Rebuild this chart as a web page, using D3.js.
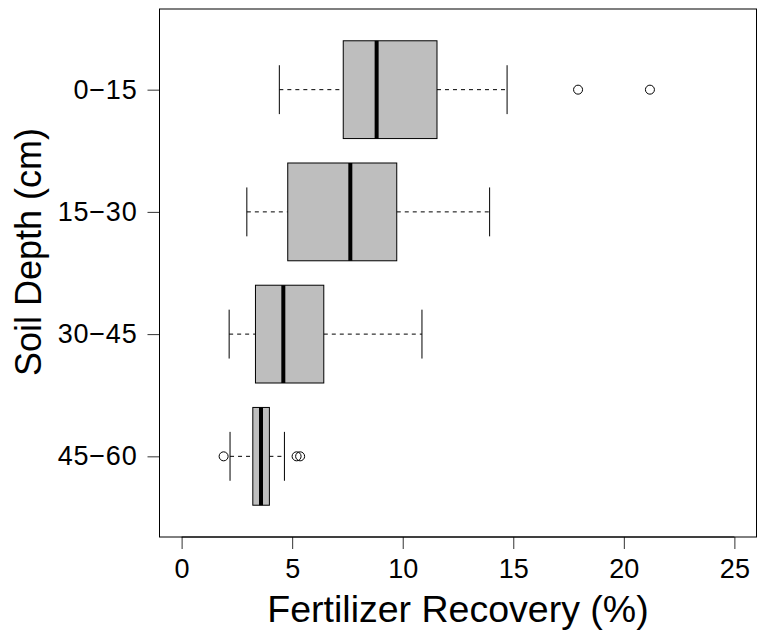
<!DOCTYPE html>
<html>
<head>
<meta charset="utf-8">
<script src="https://cdn.jsdelivr.net/npm/d3@7"></script>
<style>
  body { margin: 0; background: #fff; }
  svg text { font-family: "Liberation Sans", Arial, Helvetica, sans-serif; fill: #000; }
</style>
</head>
<body>
<div id="chart"></div>
<script>
// Chart values (top row first)
var depths = ["0\u221215", "15\u221230", "30\u221245", "45\u221260"];
var lowerWhisker = [4.42, 2.95, 2.15, 2.19];
var q1 = [7.31, 4.80, 3.34, 3.22];
var medians = [8.82, 7.63, 4.60, 3.59];
var q3 = [11.55, 9.73, 6.43, 3.97];
var upperWhisker = [14.72, 13.93, 10.87, 4.65];
var outliers = [[17.93, 21.18], [], [], [1.90, 5.20, 5.36]];
var xTicks = [0, 5, 10, 15, 20, 25];

var svgWidth = 757;
var svgHeight = 635;

// plot region (R style: box around the panel)
var plot = { left: 159.5, right: 756.5, top: 9, bottom: 537 };

var svg = d3.select("#chart")
            .append("svg")
            .attr("width", svgWidth)
            .attr("height", svgHeight);

// x: 0..25 padded by 4% like R does
var xScale = d3.scaleLinear()
    .domain([-1, 26])
    .range([plot.left, plot.right]);

// y: group positions 1..4 (bottom to top), padded like R
var yScale = d3.scaleLinear()
    .domain([0.34, 4.66])
    .range([plot.bottom, plot.top]);

var rows = depths.map(function(d, i) {
    return {
        label: d,
        pos: depths.length - i,
        lo: lowerWhisker[i],
        q1: q1[i],
        med: medians[i],
        q3: q3[i],
        hi: upperWhisker[i],
        out: outliers[i]
    };
});

var boxHalf = (yScale(0) - yScale(0.8)) / 2;
var capHalf = boxHalf / 2;

// Axes
var bottomAxis = d3.axisBottom(xScale)
    .tickValues(xTicks)
    .tickSize(12)
    .tickPadding(10);

var leftAxis = d3.axisLeft(yScale)
    .tickValues(rows.map(function(r) { return r.pos; }))
    .tickFormat(function(p) { return depths[depths.length - p]; })
    .tickSize(12)
    .tickPadding(10);

var xAxisG = svg.append("g")
    .attr("transform", "translate(0," + plot.bottom + ")")
    .call(bottomAxis);
xAxisG.select(".domain").remove();
xAxisG.selectAll("line").attr("stroke", "#333");
xAxisG.selectAll("text")
    .attr("font-size", 27)
    .attr("dy", "0.71em");

// axis line from first to last tick, like R
svg.append("line")
    .attr("x1", xScale(0)).attr("x2", xScale(25))
    .attr("y1", plot.bottom).attr("y2", plot.bottom)
    .attr("stroke", "#000");

var yAxisG = svg.append("g")
    .attr("transform", "translate(" + plot.left + ",0)")
    .call(leftAxis);
yAxisG.select(".domain").remove();
yAxisG.selectAll("line").attr("stroke", "#333");
yAxisG.selectAll("text")
    .attr("font-size", 27)
    .attr("letter-spacing", 0.8);

// Boxplots
var groups = svg.selectAll(".box")
    .data(rows)
    .enter()
    .append("g")
    .attr("class", "box");

// dashed whiskers
groups.append("line")
    .attr("x1", d => xScale(d.lo))
    .attr("x2", d => xScale(d.q1))
    .attr("y1", d => yScale(d.pos))
    .attr("y2", d => yScale(d.pos))
    .attr("stroke", "#000")
    .attr("stroke-dasharray", "4,4");

groups.append("line")
    .attr("x1", d => xScale(d.q3))
    .attr("x2", d => xScale(d.hi))
    .attr("y1", d => yScale(d.pos))
    .attr("y2", d => yScale(d.pos))
    .attr("stroke", "#000")
    .attr("stroke-dasharray", "4,4");

// staples
groups.append("line")
    .attr("x1", d => xScale(d.lo))
    .attr("x2", d => xScale(d.lo))
    .attr("y1", d => yScale(d.pos) - capHalf)
    .attr("y2", d => yScale(d.pos) + capHalf)
    .attr("stroke", "#000");

groups.append("line")
    .attr("x1", d => xScale(d.hi))
    .attr("x2", d => xScale(d.hi))
    .attr("y1", d => yScale(d.pos) - capHalf)
    .attr("y2", d => yScale(d.pos) + capHalf)
    .attr("stroke", "#000");

// box
groups.append("rect")
    .attr("x", d => xScale(d.q1))
    .attr("width", d => xScale(d.q3) - xScale(d.q1))
    .attr("y", d => yScale(d.pos) - boxHalf)
    .attr("height", boxHalf * 2)
    .attr("fill", "#bebebe")
    .attr("stroke", "#000")
    .attr("stroke-width", 1);

// median
groups.append("line")
    .attr("x1", d => xScale(d.med))
    .attr("x2", d => xScale(d.med))
    .attr("y1", d => yScale(d.pos) - boxHalf)
    .attr("y2", d => yScale(d.pos) + boxHalf)
    .attr("stroke", "#000")
    .attr("stroke-width", 4);

// outliers
groups.selectAll("circle")
    .data(d => d.out.map(v => ({ v: v, pos: d.pos })))
    .enter()
    .append("circle")
    .attr("cx", d => xScale(d.v))
    .attr("cy", d => yScale(d.pos))
    .attr("r", 4.5)
    .attr("fill", "none")
    .attr("stroke", "#000");

// panel frame
svg.append("rect")
    .attr("x", plot.left)
    .attr("y", plot.top)
    .attr("width", plot.right - plot.left)
    .attr("height", plot.bottom - plot.top)
    .attr("fill", "none")
    .attr("stroke", "#000");

// Axis titles
svg.append("text")
    .attr("x", (xScale(0) + xScale(25)) / 2)
    .attr("y", 622)
    .attr("text-anchor", "middle")
    .attr("font-size", 37.5)
    .text("Fertilizer Recovery (%)");

svg.append("text")
    .attr("transform", "translate(41," + 252 + ") rotate(-90)")
    .attr("text-anchor", "middle")
    .attr("font-size", 36)
    .text("Soil Depth (cm)");
</script>
</body>
</html>
